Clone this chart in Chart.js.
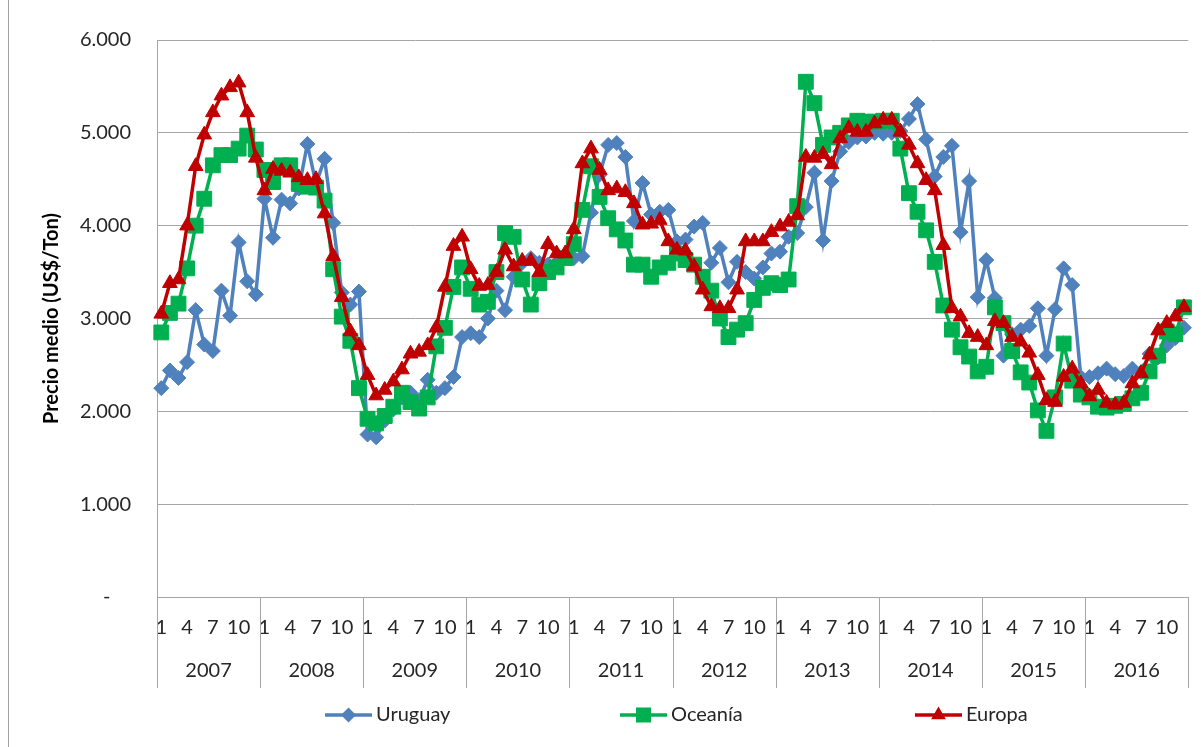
<!DOCTYPE html>
<html>
<head>
<meta charset="utf-8">
<title>Precio medio</title>
<script src="https://cdn.jsdelivr.net/npm/chart.js@4.4.1/dist/chart.umd.min.js"></script>
<style>
  html, body { margin: 0; padding: 0; background: #fff; }
  #wrap { position: relative; width: 1203px; height: 747px; }
  #frame { position: absolute; left: 8px; top: 0; width: 1px; height: 747px; background: #a0a0a0; }
</style>
</head>
<body>
<div id="wrap">
  <canvas id="chart" width="1203" height="747"></canvas>
  <div id="frame"></div>
</div>
<script>
const years = [2007, 2008, 2009, 2010, 2011, 2012, 2013, 2014, 2015, 2016];
const monthTicks = [1, 4, 7, 10];
const yTicks = [0, 1000, 2000, 3000, 4000, 5000, 6000];

// monthly prices, Jan 2007 .. Dec 2016
const uruguay = [
  2250, 2440, 2360, 2530, 3090, 2720, 2650, 3300, 3030, 3820, 3400, 3260,
  4290, 3870, 4280, 4240, 4400, 4880, 4450, 4720, 4030, 3280, 3150, 3290,
  1750, 1720, 1900, 2020, 2150, 2200, 2120, 2340, 2200, 2250, 2370, 2800,
  2840, 2800, 3000, 3300, 3090, 3450, 3600, 3650, 3600, 3580, 3600, 3650,
  3650, 3670, 4140, 4550, 4870, 4890, 4740, 4050, 4460, 4120, 4150, 4170,
  3830, 3850, 3990, 4030, 3600, 3760, 3390, 3610, 3500, 3430, 3550, 3700,
  3720, 3880, 3920, 4200, 4570, 3840, 4480, 4800, 4900, 4950, 4960, 5000,
  4990, 5000, 5020, 5150, 5310, 4930, 4530, 4740, 4860, 3930, 4480, 3230,
  3630, 3220, 2600, 2830, 2880, 2920, 3110, 2600, 3100, 3540, 3360, 2370,
  2370, 2410, 2460, 2400, 2380, 2460, 2420, 2620, 2580, 2710, 2790, 2900,
];
const oceania = [
  2850, 3060, 3160, 3540, 4000, 4290, 4650, 4760, 4760, 4830, 4970, 4820,
  4600, 4470, 4650, 4650, 4450, 4420, 4410, 4270, 3530, 3020, 2760, 2250,
  1920, 1870, 1950, 2050, 2200, 2100, 2030, 2150, 2700, 2900, 3340, 3550,
  3320, 3150, 3180, 3500, 3920, 3880, 3420, 3150, 3380, 3500, 3550, 3650,
  3800, 4170, 4640, 4310, 4080, 3960, 3840, 3580, 3580, 3450, 3550, 3600,
  3700, 3630, 3580, 3450, 3300, 3000, 2800, 2880, 2950, 3200, 3330, 3380,
  3360, 3420, 4210, 5550, 5320, 4870, 4950, 5000, 5080, 5130, 5120, 5120,
  5130, 5130, 4830, 4350, 4150, 3950, 3610, 3140, 2880, 2690, 2590, 2430,
  2480, 3120, 2950, 2650, 2420, 2310, 2010, 1790, 2150, 2730, 2330, 2180,
  2150, 2050, 2040, 2060, 2080, 2140, 2200, 2430, 2600, 2860, 2830, 3120,
];
const europa = [
  3050, 3380, 3420, 4000, 4640, 4980, 5220, 5400, 5490, 5540, 5220, 4730,
  4380, 4610, 4590, 4570, 4520, 4490, 4500, 4130, 3670, 3230, 2860, 2710,
  2390, 2170, 2230, 2320, 2450, 2620, 2640, 2710, 2900, 3340, 3780, 3880,
  3530, 3350, 3360, 3500, 3740, 3560, 3620, 3620, 3500, 3800, 3700, 3700,
  3960, 4670, 4830, 4600, 4380, 4400, 4360, 4240, 4010, 4020, 4060, 3830,
  3740, 3730, 3560, 3310, 3130, 3110, 3110, 3310, 3830, 3830, 3830, 3930,
  3990, 4040, 4110, 4740, 4730, 4770, 4660, 4940, 5050, 5010, 5010, 5100,
  5140, 5140, 5010, 4870, 4670, 4490, 4380, 3790, 3110, 3020, 2840, 2800,
  2710, 2970, 2950, 2800, 2750, 2630, 2390, 2120, 2100, 2370, 2460, 2300,
  2160, 2230, 2090, 2070, 2090, 2300, 2410, 2610, 2870, 2950, 3020, 3120,
];

const seriesNames = ["Uruguay", "Oceanía", "Europa"];
const seriesColors = ["#4f81bd", "#00b050", "#c00000"];
const legendX = [325, 620, 915];

const FONT = "Lato";
const TEXT = "#262626";

const labels = [];
years.forEach((y) => {
  for (let m = 1; m <= 12; m++) labels.push([y, m]);
});

function drawMarker(ctx, style, x, y, color) {
  ctx.save();
  ctx.fillStyle = color;
  ctx.beginPath();
  if (style === "rectRot") {
    ctx.moveTo(x - 7.5, y);
    ctx.lineTo(x, y - 7.5);
    ctx.lineTo(x + 7.5, y);
    ctx.lineTo(x, y + 7.5);
  } else if (style === "rect") {
    ctx.rect(x - 7.5, y - 7.5, 15, 15);
  } else {
    ctx.moveTo(x, y - 8.5);
    ctx.lineTo(x + 7.4, y + 4.3);
    ctx.lineTo(x - 7.4, y + 4.3);
  }
  ctx.closePath();
  ctx.fill();
  ctx.restore();
}

// year row under the month ticks, with the separator lines
const yearAxis = {
  id: "yearAxis",
  afterDraw(chart) {
    const ctx = chart.ctx;
    const xs = chart.scales.x;
    const top = chart.chartArea.bottom;
    const bounds = [];
    for (let k = 0; k <= years.length; k++) {
      if (k === 0) bounds.push(xs.left);
      else if (k === years.length) bounds.push(xs.right);
      else
        bounds.push(
          (xs.getPixelForTick(k * 12 - 1) + xs.getPixelForTick(k * 12)) / 2
        );
    }
    ctx.save();
    ctx.strokeStyle = "#a6a6a6";
    ctx.lineWidth = 1;
    bounds.forEach((bx) => {
      const px = Math.round(bx) + 0.5;
      ctx.beginPath();
      ctx.moveTo(px, top);
      ctx.lineTo(px, top + 91);
      ctx.stroke();
    });
    ctx.fillStyle = TEXT;
    ctx.font = "20px " + FONT;
    ctx.textAlign = "center";
    ctx.textBaseline = "middle";
    years.forEach((y, k) => {
      ctx.fillText(String(y), (bounds[k] + bounds[k + 1]) / 2, top + 74);
    });
    ctx.restore();
  },
};

const legendLine = {
  id: "legendLine",
  afterDraw(chart) {
    const ctx = chart.ctx;
    const y = 715;
    ctx.save();
    chart.data.datasets.forEach((ds, i) => {
      const x0 = legendX[i];
      ctx.strokeStyle = ds.borderColor;
      ctx.lineWidth = 3.5;
      ctx.beginPath();
      ctx.moveTo(x0, y);
      ctx.lineTo(x0 + 47, y);
      ctx.stroke();
      drawMarker(ctx, ds.pointStyle, x0 + 23.5, y, ds.borderColor);
      ctx.fillStyle = TEXT;
      ctx.font = "20px " + FONT;
      ctx.textAlign = "left";
      ctx.textBaseline = "middle";
      ctx.fillText(ds.label, x0 + 51, y);
    });
    ctx.restore();
  },
};

function series(i, data, style, radius, order) {
  return {
    label: seriesNames[i],
    data: data,
    borderColor: seriesColors[i],
    backgroundColor: seriesColors[i],
    pointBackgroundColor: seriesColors[i],
    pointBorderColor: seriesColors[i],
    borderWidth: 3.5,
    pointStyle: style,
    pointRadius: radius,
    pointBorderWidth: 1,
    tension: 0,
    order: order,
  };
}

new Chart(document.getElementById("chart"), {
  type: "line",
  data: {
    labels: labels,
    datasets: [
      series(0, uruguay, "rectRot", 7.5, 2),
      series(1, oceania, "rect", 10.5, 1),
      series(2, europa, "triangle", 8.5, 0),
    ],
  },
  options: {
    responsive: false,
    animation: false,
    devicePixelRatio: 1,
    events: [],
    layout: { padding: { top: 40, right: 14, bottom: 0, left: 36 } },
    plugins: { legend: { display: false }, tooltip: { enabled: false } },
    scales: {
      x: {
        type: "category",
        offset: true,
        grid: { display: false, drawTicks: false },
        border: { display: true, color: "#a6a6a6", width: 1 },
        ticks: {
          autoSkip: false,
          maxRotation: 0,
          minRotation: 0,
          padding: 19,
          color: TEXT,
          font: { family: FONT, size: 20 },
          callback: function (val, idx) {
            const m = labels[idx][1];
            return monthTicks.includes(m) ? String(m) : "";
          },
        },
        afterFit(scale) {
          scale.height = 150;
        },
      },
      y: {
        min: yTicks[0],
        max: yTicks[yTicks.length - 1],
        afterBuildTicks(scale) {
          scale.ticks = yTicks.map((v) => ({ value: v }));
        },
        grid: { color: "#a6a6a6", lineWidth: 1, drawTicks: false },
        border: { display: true, color: "#a6a6a6", width: 1 },
        ticks: {
          padding: 26,
          color: TEXT,
          font: { family: FONT, size: 20 },
          callback: function (v) {
            return v === 0 ? "-    " : v / 1000 + ".000";
          },
        },
        title: {
          display: true,
          text: "Precio medio (US$/Ton)",
          color: "#000",
          font: { family: FONT, size: 20, weight: "bold" },
        },
        afterFit(scale) {
          scale.width = 121;
        },
      },
    },
  },
  plugins: [yearAxis, legendLine],
});
</script>
</body>
</html>
